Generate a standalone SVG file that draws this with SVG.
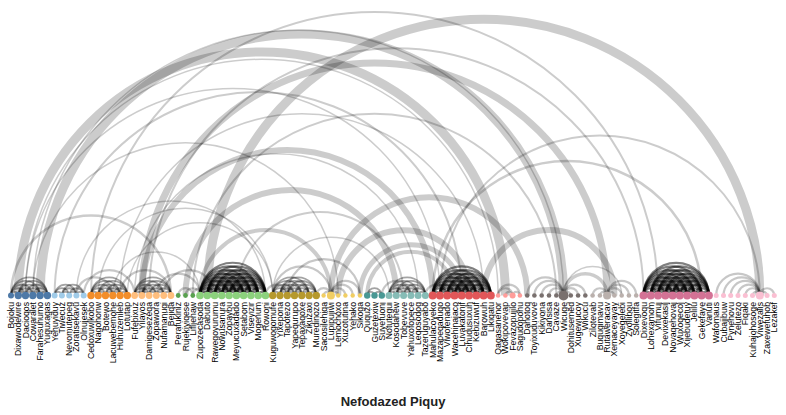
<svg xmlns="http://www.w3.org/2000/svg" width="786" height="415" viewBox="0 0 786 415">
<style>
.a path{fill:none;stroke:#000;stroke-opacity:.2}
.a .i path{stroke-width:1.8;stroke-opacity:.36}
.a .d path{stroke-width:2.2;stroke-opacity:.5}
.a .s path{stroke-width:2.2;stroke-opacity:.22}
text.lb{font-family:"Liberation Sans",Arial,sans-serif;font-size:8.7px;fill:#000}
.t{font-family:"Liberation Sans",Arial,sans-serif;font-size:13px;font-weight:bold;fill:#222}
</style>
<rect width="786" height="415" fill="#fff"/>
<g id="connectors" class="a">
<g class="i">
<path d="M11 295.5A1 1 0 0 1 18.3 295.5"/><path d="M11 295.5A1 1 0 0 1 25.5 295.5"/><path d="M11 295.5A1 1 0 0 1 32.8 295.5"/><path d="M11 295.5A1 1 0 0 1 40.1 295.5"/><path d="M11 295.5A1 1 0 0 1 47.4 295.5"/>
<path d="M18.3 295.5A1 1 0 0 1 25.5 295.5"/><path d="M18.3 295.5A1 1 0 0 1 32.8 295.5"/><path d="M18.3 295.5A1 1 0 0 1 40.1 295.5"/><path d="M18.3 295.5A1 1 0 0 1 47.4 295.5"/>
<path d="M25.5 295.5A1 1 0 0 1 32.8 295.5"/><path d="M25.5 295.5A1 1 0 0 1 40.1 295.5"/><path d="M25.5 295.5A1 1 0 0 1 47.4 295.5"/>
<path d="M32.8 295.5A1 1 0 0 1 40.1 295.5"/><path d="M32.8 295.5A1 1 0 0 1 47.4 295.5"/><path d="M40.1 295.5A1 1 0 0 1 47.4 295.5"/>
<path d="M54.6 295.5A1 1 0 0 1 61.9 295.5"/><path d="M54.6 295.5A1 1 0 0 1 69.2 295.5"/><path d="M54.6 295.5A1 1 0 0 1 76.4 295.5"/><path d="M61.9 295.5A1 1 0 0 1 69.2 295.5"/><path d="M61.9 295.5A1 1 0 0 1 76.4 295.5"/><path d="M61.9 295.5A1 1 0 0 1 83.7 295.5"/><path d="M69.2 295.5A1 1 0 0 1 76.4 295.5"/><path d="M69.2 295.5A1 1 0 0 1 83.7 295.5"/><path d="M76.4 295.5A1 1 0 0 1 83.7 295.5"/>
<path d="M91 295.5A1 1 0 0 1 98.2 295.5"/><path d="M91 295.5A1 1 0 0 1 105.5 295.5"/><path d="M91 295.5A1 1 0 0 1 112.8 295.5"/><path d="M91 295.5A1 1 0 0 1 120.1 295.5"/><path d="M91 295.5A1 1 0 0 1 127.3 295.5"/>
<path d="M98.2 295.5A1 1 0 0 1 105.5 295.5"/><path d="M98.2 295.5A1 1 0 0 1 112.8 295.5"/><path d="M98.2 295.5A1 1 0 0 1 120.1 295.5"/><path d="M98.2 295.5A1 1 0 0 1 127.3 295.5"/>
<path d="M105.5 295.5A1 1 0 0 1 112.8 295.5"/><path d="M105.5 295.5A1 1 0 0 1 120.1 295.5"/><path d="M105.5 295.5A1 1 0 0 1 127.3 295.5"/>
<path d="M112.8 295.5A1 1 0 0 1 120.1 295.5"/><path d="M112.8 295.5A1 1 0 0 1 127.3 295.5"/><path d="M120.1 295.5A1 1 0 0 1 127.3 295.5"/>
<path d="M134.6 295.5A1 1 0 0 1 141.9 295.5"/><path d="M134.6 295.5A1 1 0 0 1 149.1 295.5"/><path d="M134.6 295.5A1 1 0 0 1 156.4 295.5"/><path d="M134.6 295.5A1 1 0 0 1 163.7 295.5"/><path d="M134.6 295.5A1 1 0 0 1 170.9 295.5"/>
<path d="M141.9 295.5A1 1 0 0 1 149.1 295.5"/><path d="M141.9 295.5A1 1 0 0 1 156.4 295.5"/><path d="M141.9 295.5A1 1 0 0 1 163.7 295.5"/><path d="M141.9 295.5A1 1 0 0 1 170.9 295.5"/>
<path d="M149.1 295.5A1 1 0 0 1 156.4 295.5"/><path d="M149.1 295.5A1 1 0 0 1 163.7 295.5"/><path d="M149.1 295.5A1 1 0 0 1 170.9 295.5"/>
<path d="M156.4 295.5A1 1 0 0 1 163.7 295.5"/><path d="M156.4 295.5A1 1 0 0 1 170.9 295.5"/><path d="M163.7 295.5A1 1 0 0 1 170.9 295.5"/>
<path d="M272.7 295.5A1 1 0 0 1 280 295.5"/><path d="M272.7 295.5A1 1 0 0 1 287.3 295.5"/><path d="M272.7 295.5A1 1 0 0 1 294.5 295.5"/><path d="M272.7 295.5A1 1 0 0 1 301.8 295.5"/><path d="M272.7 295.5A1 1 0 0 1 309.1 295.5"/>
<path d="M280 295.5A1 1 0 0 1 287.3 295.5"/><path d="M280 295.5A1 1 0 0 1 294.5 295.5"/><path d="M280 295.5A1 1 0 0 1 301.8 295.5"/><path d="M280 295.5A1 1 0 0 1 309.1 295.5"/><path d="M280 295.5A1 1 0 0 1 316.3 295.5"/>
<path d="M287.3 295.5A1 1 0 0 1 294.5 295.5"/><path d="M287.3 295.5A1 1 0 0 1 301.8 295.5"/><path d="M287.3 295.5A1 1 0 0 1 309.1 295.5"/><path d="M287.3 295.5A1 1 0 0 1 316.3 295.5"/>
<path d="M294.5 295.5A1 1 0 0 1 301.8 295.5"/><path d="M294.5 295.5A1 1 0 0 1 309.1 295.5"/><path d="M294.5 295.5A1 1 0 0 1 316.3 295.5"/>
<path d="M301.8 295.5A1 1 0 0 1 309.1 295.5"/><path d="M301.8 295.5A1 1 0 0 1 316.3 295.5"/><path d="M309.1 295.5A1 1 0 0 1 316.3 295.5"/>
<path d="M367.2 295.5A1 1 0 0 1 374.5 295.5"/><path d="M374.5 295.5A1 1 0 0 1 381.8 295.5"/><path d="M367.2 295.5A1 1 0 0 1 381.8 295.5"/>
<path d="M389 295.5A1 1 0 0 1 396.3 295.5"/><path d="M389 295.5A1 1 0 0 1 403.6 295.5"/><path d="M389 295.5A1 1 0 0 1 410.9 295.5"/><path d="M389 295.5A1 1 0 0 1 418.1 295.5"/><path d="M389 295.5A1 1 0 0 1 425.4 295.5"/>
<path d="M396.3 295.5A1 1 0 0 1 403.6 295.5"/><path d="M396.3 295.5A1 1 0 0 1 410.9 295.5"/><path d="M396.3 295.5A1 1 0 0 1 418.1 295.5"/><path d="M396.3 295.5A1 1 0 0 1 425.4 295.5"/>
<path d="M403.6 295.5A1 1 0 0 1 410.9 295.5"/><path d="M403.6 295.5A1 1 0 0 1 418.1 295.5"/><path d="M403.6 295.5A1 1 0 0 1 425.4 295.5"/>
<path d="M410.9 295.5A1 1 0 0 1 418.1 295.5"/><path d="M410.9 295.5A1 1 0 0 1 425.4 295.5"/><path d="M418.1 295.5A1 1 0 0 1 425.4 295.5"/>
</g>
<g class="d">
<path d="M200 295.5A1 1 0 0 1 207.3 295.5"/><path d="M200 295.5A1 1 0 0 1 214.6 295.5"/><path d="M200 295.5A1 1 0 0 1 221.8 295.5"/><path d="M200 295.5A1 1 0 0 1 229.1 295.5"/><path d="M200 295.5A1 1 0 0 1 236.4 295.5"/><path d="M200 295.5A1 1 0 0 1 243.6 295.5"/><path d="M200 295.5A1 1 0 0 1 250.9 295.5"/><path d="M200 295.5A1 1 0 0 1 258.2 295.5"/><path d="M200 295.5A1 1 0 0 1 265.5 295.5"/>
<path d="M207.3 295.5A1 1 0 0 1 214.6 295.5"/><path d="M207.3 295.5A1 1 0 0 1 221.8 295.5"/><path d="M207.3 295.5A1 1 0 0 1 229.1 295.5"/><path d="M207.3 295.5A1 1 0 0 1 236.4 295.5"/><path d="M207.3 295.5A1 1 0 0 1 243.6 295.5"/><path d="M207.3 295.5A1 1 0 0 1 250.9 295.5"/><path d="M207.3 295.5A1 1 0 0 1 258.2 295.5"/><path d="M207.3 295.5A1 1 0 0 1 265.5 295.5"/>
<path d="M214.6 295.5A1 1 0 0 1 221.8 295.5"/><path d="M214.6 295.5A1 1 0 0 1 229.1 295.5"/><path d="M214.6 295.5A1 1 0 0 1 236.4 295.5"/><path d="M214.6 295.5A1 1 0 0 1 243.6 295.5"/><path d="M214.6 295.5A1 1 0 0 1 250.9 295.5"/><path d="M214.6 295.5A1 1 0 0 1 258.2 295.5"/><path d="M214.6 295.5A1 1 0 0 1 265.5 295.5"/>
<path d="M221.8 295.5A1 1 0 0 1 229.1 295.5"/><path d="M221.8 295.5A1 1 0 0 1 236.4 295.5"/><path d="M221.8 295.5A1 1 0 0 1 243.6 295.5"/><path d="M221.8 295.5A1 1 0 0 1 250.9 295.5"/><path d="M221.8 295.5A1 1 0 0 1 258.2 295.5"/><path d="M221.8 295.5A1 1 0 0 1 265.5 295.5"/>
<path d="M229.1 295.5A1 1 0 0 1 236.4 295.5"/><path d="M229.1 295.5A1 1 0 0 1 243.6 295.5"/><path d="M229.1 295.5A1 1 0 0 1 250.9 295.5"/><path d="M229.1 295.5A1 1 0 0 1 258.2 295.5"/><path d="M229.1 295.5A1 1 0 0 1 265.5 295.5"/>
<path d="M236.4 295.5A1 1 0 0 1 243.6 295.5"/><path d="M236.4 295.5A1 1 0 0 1 250.9 295.5"/><path d="M236.4 295.5A1 1 0 0 1 258.2 295.5"/><path d="M236.4 295.5A1 1 0 0 1 265.5 295.5"/>
<path d="M243.6 295.5A1 1 0 0 1 250.9 295.5"/><path d="M243.6 295.5A1 1 0 0 1 258.2 295.5"/><path d="M243.6 295.5A1 1 0 0 1 265.5 295.5"/>
<path d="M250.9 295.5A1 1 0 0 1 258.2 295.5"/><path d="M250.9 295.5A1 1 0 0 1 265.5 295.5"/><path d="M258.2 295.5A1 1 0 0 1 265.5 295.5"/>
<path d="M432.7 295.5A1 1 0 0 1 439.9 295.5"/><path d="M432.7 295.5A1 1 0 0 1 447.2 295.5"/><path d="M432.7 295.5A1 1 0 0 1 454.5 295.5"/><path d="M432.7 295.5A1 1 0 0 1 461.7 295.5"/><path d="M432.7 295.5A1 1 0 0 1 469 295.5"/><path d="M432.7 295.5A1 1 0 0 1 476.3 295.5"/><path d="M432.7 295.5A1 1 0 0 1 483.6 295.5"/><path d="M432.7 295.5A1 1 0 0 1 490.8 295.5"/>
<path d="M439.9 295.5A1 1 0 0 1 447.2 295.5"/><path d="M439.9 295.5A1 1 0 0 1 454.5 295.5"/><path d="M439.9 295.5A1 1 0 0 1 461.7 295.5"/><path d="M439.9 295.5A1 1 0 0 1 469 295.5"/><path d="M439.9 295.5A1 1 0 0 1 476.3 295.5"/><path d="M439.9 295.5A1 1 0 0 1 483.6 295.5"/><path d="M439.9 295.5A1 1 0 0 1 490.8 295.5"/>
<path d="M447.2 295.5A1 1 0 0 1 454.5 295.5"/><path d="M447.2 295.5A1 1 0 0 1 461.7 295.5"/><path d="M447.2 295.5A1 1 0 0 1 469 295.5"/><path d="M447.2 295.5A1 1 0 0 1 476.3 295.5"/><path d="M447.2 295.5A1 1 0 0 1 483.6 295.5"/><path d="M447.2 295.5A1 1 0 0 1 490.8 295.5"/>
<path d="M454.5 295.5A1 1 0 0 1 461.7 295.5"/><path d="M454.5 295.5A1 1 0 0 1 469 295.5"/><path d="M454.5 295.5A1 1 0 0 1 476.3 295.5"/><path d="M454.5 295.5A1 1 0 0 1 483.6 295.5"/><path d="M454.5 295.5A1 1 0 0 1 490.8 295.5"/>
<path d="M461.7 295.5A1 1 0 0 1 469 295.5"/><path d="M461.7 295.5A1 1 0 0 1 476.3 295.5"/><path d="M461.7 295.5A1 1 0 0 1 483.6 295.5"/><path d="M461.7 295.5A1 1 0 0 1 490.8 295.5"/>
<path d="M469 295.5A1 1 0 0 1 476.3 295.5"/><path d="M469 295.5A1 1 0 0 1 483.6 295.5"/><path d="M469 295.5A1 1 0 0 1 490.8 295.5"/>
<path d="M476.3 295.5A1 1 0 0 1 483.6 295.5"/><path d="M476.3 295.5A1 1 0 0 1 490.8 295.5"/><path d="M483.6 295.5A1 1 0 0 1 490.8 295.5"/>
<path d="M643.5 295.5A1 1 0 0 1 650.8 295.5"/><path d="M643.5 295.5A1 1 0 0 1 658 295.5"/><path d="M643.5 295.5A1 1 0 0 1 665.3 295.5"/><path d="M643.5 295.5A1 1 0 0 1 672.6 295.5"/><path d="M643.5 295.5A1 1 0 0 1 679.8 295.5"/><path d="M643.5 295.5A1 1 0 0 1 687.1 295.5"/><path d="M643.5 295.5A1 1 0 0 1 694.4 295.5"/><path d="M643.5 295.5A1 1 0 0 1 701.6 295.5"/><path d="M643.5 295.5A1 1 0 0 1 708.9 295.5"/>
<path d="M650.8 295.5A1 1 0 0 1 658 295.5"/><path d="M650.8 295.5A1 1 0 0 1 665.3 295.5"/><path d="M650.8 295.5A1 1 0 0 1 672.6 295.5"/><path d="M650.8 295.5A1 1 0 0 1 679.8 295.5"/><path d="M650.8 295.5A1 1 0 0 1 687.1 295.5"/><path d="M650.8 295.5A1 1 0 0 1 694.4 295.5"/><path d="M650.8 295.5A1 1 0 0 1 701.6 295.5"/><path d="M650.8 295.5A1 1 0 0 1 708.9 295.5"/>
<path d="M658 295.5A1 1 0 0 1 665.3 295.5"/><path d="M658 295.5A1 1 0 0 1 672.6 295.5"/><path d="M658 295.5A1 1 0 0 1 679.8 295.5"/><path d="M658 295.5A1 1 0 0 1 687.1 295.5"/><path d="M658 295.5A1 1 0 0 1 694.4 295.5"/><path d="M658 295.5A1 1 0 0 1 701.6 295.5"/><path d="M658 295.5A1 1 0 0 1 708.9 295.5"/>
<path d="M665.3 295.5A1 1 0 0 1 672.6 295.5"/><path d="M665.3 295.5A1 1 0 0 1 679.8 295.5"/><path d="M665.3 295.5A1 1 0 0 1 687.1 295.5"/><path d="M665.3 295.5A1 1 0 0 1 694.4 295.5"/><path d="M665.3 295.5A1 1 0 0 1 701.6 295.5"/><path d="M665.3 295.5A1 1 0 0 1 708.9 295.5"/>
<path d="M672.6 295.5A1 1 0 0 1 679.8 295.5"/><path d="M672.6 295.5A1 1 0 0 1 687.1 295.5"/><path d="M672.6 295.5A1 1 0 0 1 694.4 295.5"/><path d="M672.6 295.5A1 1 0 0 1 701.6 295.5"/><path d="M672.6 295.5A1 1 0 0 1 708.9 295.5"/>
<path d="M679.8 295.5A1 1 0 0 1 687.1 295.5"/><path d="M679.8 295.5A1 1 0 0 1 694.4 295.5"/><path d="M679.8 295.5A1 1 0 0 1 701.6 295.5"/><path d="M679.8 295.5A1 1 0 0 1 708.9 295.5"/>
<path d="M687.1 295.5A1 1 0 0 1 694.4 295.5"/><path d="M687.1 295.5A1 1 0 0 1 701.6 295.5"/><path d="M687.1 295.5A1 1 0 0 1 708.9 295.5"/>
<path d="M694.4 295.5A1 1 0 0 1 701.6 295.5"/><path d="M694.4 295.5A1 1 0 0 1 708.9 295.5"/><path d="M701.6 295.5A1 1 0 0 1 708.9 295.5"/>
</g>
<g class="s">
<path d="M178.2 295.5A1 1 0 0 1 192.8 295.5"/><path d="M185.5 295.5A1 1 0 0 1 200 295.5"/><path d="M192.8 295.5A1 1 0 0 1 207.3 295.5"/>
<path d="M323.6 295.5A1 1 0 0 1 330.9 295.5"/><path d="M330.9 295.5A1 1 0 0 1 338.2 295.5"/><path d="M330.9 295.5A1 1 0 0 1 345.4 295.5"/><path d="M330.9 295.5A1 1 0 0 1 352.7 295.5"/><path d="M330.9 295.5A1 1 0 0 1 360 295.5"/><path d="M272.7 295.5A1 1 0 0 1 330.9 295.5"/><path d="M287.3 295.5A1 1 0 0 1 360 295.5"/>
<path d="M498.1 295.5A1 1 0 0 1 512.6 295.5"/><path d="M505.4 295.5A1 1 0 0 1 512.6 295.5"/><path d="M512.6 295.5A1 1 0 0 1 519.9 295.5"/><path d="M498.1 295.5A1 1 0 0 1 519.9 295.5"/>
<path d="M527.2 295.5A1 1 0 0 1 563.5 295.5"/><path d="M534.4 295.5A1 1 0 0 1 563.5 295.5"/><path d="M541.7 295.5A1 1 0 0 1 563.5 295.5"/><path d="M549 295.5A1 1 0 0 1 563.5 295.5"/><path d="M556.3 295.5A1 1 0 0 1 563.5 295.5"/><path d="M563.5 295.5A1 1 0 0 1 570.8 295.5"/><path d="M563.5 295.5A1 1 0 0 1 578.1 295.5"/><path d="M563.5 295.5A1 1 0 0 1 585.3 295.5"/>
<path d="M592.6 295.5A1 1 0 0 1 607.1 295.5"/><path d="M599.9 295.5A1 1 0 0 1 607.1 295.5"/><path d="M607.1 295.5A1 1 0 0 1 614.4 295.5"/><path d="M607.1 295.5A1 1 0 0 1 621.7 295.5"/><path d="M607.1 295.5A1 1 0 0 1 628.9 295.5"/><path d="M607.1 295.5A1 1 0 0 1 636.2 295.5"/>
<path d="M716.2 295.5A1 1 0 0 1 759.8 295.5"/><path d="M723.5 295.5A1 1 0 0 1 759.8 295.5"/><path d="M730.7 295.5A1 1 0 0 1 759.8 295.5"/><path d="M738 295.5A1 1 0 0 1 759.8 295.5"/><path d="M745.3 295.5A1 1 0 0 1 759.8 295.5"/><path d="M752.5 295.5A1 1 0 0 1 759.8 295.5"/><path d="M759.8 295.5A1 1 0 0 1 767.1 295.5"/><path d="M759.8 295.5A1 1 0 0 1 774.3 295.5"/>
<path d="M76.4 295.5A1 1 0 0 1 112.8 295.5"/><path d="M83.7 295.5A1 1 0 0 1 134.6 295.5"/><path d="M120.1 295.5A1 1 0 0 1 170.9 295.5"/><path d="M156.4 295.5A1 1 0 0 1 200 295.5"/><path d="M163.7 295.5A1 1 0 0 1 214.6 295.5"/><path d="M265.5 295.5A1 1 0 0 1 287.3 295.5"/><path d="M316.3 295.5A1 1 0 0 1 330.9 295.5"/><path d="M425.4 295.5A1 1 0 0 1 447.2 295.5"/><path d="M381.8 295.5A1 1 0 0 1 410.9 295.5"/>
</g>
<path stroke-width="9" d="M207.3 295.5A1 1 0 0 1 759.8 295.5"/>
<path stroke-width="9" d="M40.1 295.5A1 1 0 0 1 563.5 295.5"/>
<path stroke-width="1.5" d="M32.8 295.5A1 1 0 0 1 563.5 295.5"/>
<path stroke-width="9" d="M18.3 295.5A1 1 0 0 1 505.4 295.5"/>
<path stroke-width="1.5" d="M25.5 295.5A1 1 0 0 1 498.1 295.5"/>
<path stroke-width="2" d="M91 295.5A1 1 0 0 1 658 295.5"/>
<path stroke-width="7" d="M141.9 295.5A1 1 0 0 1 607.1 295.5"/>
<path stroke-width="6" d="M141.9 295.5A1 1 0 0 1 432.7 295.5"/>
<path stroke-width="6" d="M185.5 295.5A1 1 0 0 1 396.3 295.5"/>
<path stroke-width="2.5" d="M11 295.5A1 1 0 0 1 170.9 295.5"/>
<path stroke-width="2" d="M54.6 295.5A1 1 0 0 1 461.7 295.5"/>
<path stroke-width="2" d="M439.9 295.5A1 1 0 0 1 759.8 295.5"/>
<path stroke-width="2.5" d="M432.7 295.5A1 1 0 0 1 701.6 295.5"/>
<path stroke-width="6" d="M483.6 295.5A1 1 0 0 1 614.4 295.5"/>
<path stroke-width="6" d="M330.9 295.5A1 1 0 0 1 527.2 295.5"/>
<path stroke-width="6" d="M338.2 295.5A1 1 0 0 1 469 295.5"/>
<path stroke-width="5" d="M360 295.5A1 1 0 0 1 461.7 295.5"/>
<path stroke-width="4" d="M367.2 295.5A1 1 0 0 1 454.5 295.5"/>
<path stroke-width="4" d="M200 295.5A1 1 0 0 1 330.9 295.5"/>
<path stroke-width="2" d="M149.1 295.5A1 1 0 0 1 643.5 295.5"/>
<path stroke-width="2" d="M192.8 295.5A1 1 0 0 1 556.3 295.5"/>
<path stroke-width="1.5" d="M25.5 295.5A1 1 0 0 1 439.9 295.5"/>
<path stroke-width="1.5" d="M120.1 295.5A1 1 0 0 1 483.6 295.5"/>
<path stroke-width="1.5" d="M134.6 295.5A1 1 0 0 1 418.1 295.5"/>
<path stroke-width="1.5" d="M32.8 295.5A1 1 0 0 1 338.2 295.5"/>
<path stroke-width="1.5" d="M98.2 295.5A1 1 0 0 1 272.7 295.5"/>
<path stroke-width="1.5" d="M76.4 295.5A1 1 0 0 1 265.5 295.5"/>
<path stroke-width="1.5" d="M127.3 295.5A1 1 0 0 1 272.7 295.5"/>
<path stroke-width="1.5" d="M112.8 295.5A1 1 0 0 1 200 295.5"/>
<path stroke-width="2" d="M236.4 295.5A1 1 0 0 1 403.6 295.5"/>
<path stroke-width="1.5" d="M272.7 295.5A1 1 0 0 1 389 295.5"/>
<path stroke-width="3.5" d="M563.5 295.5A1 1 0 0 1 607.1 295.5"/>
<path stroke-width="1.5" d="M563.5 295.5A1 1 0 0 1 621.7 295.5"/>
</g>
<g id="nodes">
<g id="n0"><circle cx="11" cy="295.5" r="3" fill="#4e79a7"/><text class="lb" transform="translate(11,302) rotate(-90)" text-anchor="end" dy="0.35em">Bojoku</text></g>
<g id="n1"><circle cx="18.3" cy="295.5" r="3.7" fill="#4e79a7"/><text class="lb" transform="translate(18.3,302) rotate(-90)" text-anchor="end" dy="0.35em">Dixawodewire</text></g>
<g id="n2"><circle cx="25.5" cy="295.5" r="3.7" fill="#4e79a7"/><text class="lb" transform="translate(25.5,302) rotate(-90)" text-anchor="end" dy="0.35em">Dacioqos</text></g>
<g id="n3"><circle cx="32.8" cy="295.5" r="3.7" fill="#4e79a7"/><text class="lb" transform="translate(32.8,302) rotate(-90)" text-anchor="end" dy="0.35em">Cowaralet</text></g>
<g id="n4"><circle cx="40.1" cy="295.5" r="3.7" fill="#4e79a7"/><text class="lb" transform="translate(40.1,302) rotate(-90)" text-anchor="end" dy="0.35em">Farahesuhumo</text></g>
<g id="n5"><circle cx="47.4" cy="295.5" r="3.7" fill="#4e79a7"/><text class="lb" transform="translate(47.4,302) rotate(-90)" text-anchor="end" dy="0.35em">Yuguxagas</text></g>
<g id="n6"><circle cx="54.6" cy="295.5" r="3" fill="#a0cbe8"/><text class="lb" transform="translate(54.6,302) rotate(-90)" text-anchor="end" dy="0.35em">Yehuyiduy</text></g>
<g id="n7"><circle cx="61.9" cy="295.5" r="3" fill="#a0cbe8"/><text class="lb" transform="translate(61.9,302) rotate(-90)" text-anchor="end" dy="0.35em">Tiwecuz</text></g>
<g id="n8"><circle cx="69.2" cy="295.5" r="3" fill="#a0cbe8"/><text class="lb" transform="translate(69.2,302) rotate(-90)" text-anchor="end" dy="0.35em">Nevomutepeg</text></g>
<g id="n9"><circle cx="76.4" cy="295.5" r="3" fill="#a0cbe8"/><text class="lb" transform="translate(76.4,302) rotate(-90)" text-anchor="end" dy="0.35em">Zoratisekavu</text></g>
<g id="n10"><circle cx="83.7" cy="295.5" r="3" fill="#a0cbe8"/><text class="lb" transform="translate(83.7,302) rotate(-90)" text-anchor="end" dy="0.35em">Olnujesek</text></g>
<g id="n11"><circle cx="91" cy="295.5" r="3.7" fill="#f28e2b"/><text class="lb" transform="translate(91,302) rotate(-90)" text-anchor="end" dy="0.35em">Cedoxuwikobo</text></g>
<g id="n12"><circle cx="98.2" cy="295.5" r="3.7" fill="#f28e2b"/><text class="lb" transform="translate(98.2,302) rotate(-90)" text-anchor="end" dy="0.35em">Nagohonw</text></g>
<g id="n13"><circle cx="105.5" cy="295.5" r="3.7" fill="#f28e2b"/><text class="lb" transform="translate(105.5,302) rotate(-90)" text-anchor="end" dy="0.35em">Botewo</text></g>
<g id="n14"><circle cx="112.8" cy="295.5" r="3.7" fill="#f28e2b"/><text class="lb" transform="translate(112.8,302) rotate(-90)" text-anchor="end" dy="0.35em">Lacuwebemohe</text></g>
<g id="n15"><circle cx="120.1" cy="295.5" r="3.7" fill="#f28e2b"/><text class="lb" transform="translate(120.1,302) rotate(-90)" text-anchor="end" dy="0.35em">Huhuzenileb</text></g>
<g id="n16"><circle cx="127.3" cy="295.5" r="3.7" fill="#f28e2b"/><text class="lb" transform="translate(127.3,302) rotate(-90)" text-anchor="end" dy="0.35em">Lotutap</text></g>
<g id="n17"><circle cx="134.6" cy="295.5" r="3.4" fill="#ffbe7d"/><text class="lb" transform="translate(134.6,302) rotate(-90)" text-anchor="end" dy="0.35em">Fufebixuz</text></g>
<g id="n18"><circle cx="141.9" cy="295.5" r="3.4" fill="#ffbe7d"/><text class="lb" transform="translate(141.9,302) rotate(-90)" text-anchor="end" dy="0.35em">Yilayos</text></g>
<g id="n19"><circle cx="149.1" cy="295.5" r="3.4" fill="#ffbe7d"/><text class="lb" transform="translate(149.1,302) rotate(-90)" text-anchor="end" dy="0.35em">Damigesezeqa</text></g>
<g id="n20"><circle cx="156.4" cy="295.5" r="3.4" fill="#ffbe7d"/><text class="lb" transform="translate(156.4,302) rotate(-90)" text-anchor="end" dy="0.35em">Zopawora</text></g>
<g id="n21"><circle cx="163.7" cy="295.5" r="3.4" fill="#ffbe7d"/><text class="lb" transform="translate(163.7,302) rotate(-90)" text-anchor="end" dy="0.35em">Nufamanugi</text></g>
<g id="n22"><circle cx="170.9" cy="295.5" r="3.4" fill="#ffbe7d"/><text class="lb" transform="translate(170.9,302) rotate(-90)" text-anchor="end" dy="0.35em">Bejiqa</text></g>
<g id="n23"><circle cx="178.2" cy="295.5" r="2.4" fill="#59a14f"/><text class="lb" transform="translate(178.2,302) rotate(-90)" text-anchor="end" dy="0.35em">Perafukiniz</text></g>
<g id="n24"><circle cx="185.5" cy="295.5" r="2.4" fill="#59a14f"/><text class="lb" transform="translate(185.5,302) rotate(-90)" text-anchor="end" dy="0.35em">Rujekiyiqese</text></g>
<g id="n25"><circle cx="192.8" cy="295.5" r="2.4" fill="#59a14f"/><text class="lb" transform="translate(192.8,302) rotate(-90)" text-anchor="end" dy="0.35em">Lifijenaw</text></g>
<g id="n26"><circle cx="200" cy="295.5" r="3.8" fill="#8cd17d"/><text class="lb" transform="translate(200,302) rotate(-90)" text-anchor="end" dy="0.35em">Zupozecasoda</text></g>
<g id="n27"><circle cx="207.3" cy="295.5" r="3.8" fill="#8cd17d"/><text class="lb" transform="translate(207.3,302) rotate(-90)" text-anchor="end" dy="0.35em">Dabuto</text></g>
<g id="n28"><circle cx="214.6" cy="295.5" r="3.8" fill="#8cd17d"/><text class="lb" transform="translate(214.6,302) rotate(-90)" text-anchor="end" dy="0.35em">Rawegoyurumu</text></g>
<g id="n29"><circle cx="221.8" cy="295.5" r="3.8" fill="#8cd17d"/><text class="lb" transform="translate(221.8,302) rotate(-90)" text-anchor="end" dy="0.35em">Nowusanura</text></g>
<g id="n30"><circle cx="229.1" cy="295.5" r="3.8" fill="#8cd17d"/><text class="lb" transform="translate(229.1,302) rotate(-90)" text-anchor="end" dy="0.35em">Zopaybu</text></g>
<g id="n31"><circle cx="236.4" cy="295.5" r="3.8" fill="#8cd17d"/><text class="lb" transform="translate(236.4,302) rotate(-90)" text-anchor="end" dy="0.35em">Meyucuxadado</text></g>
<g id="n32"><circle cx="243.6" cy="295.5" r="3.8" fill="#8cd17d"/><text class="lb" transform="translate(243.6,302) rotate(-90)" text-anchor="end" dy="0.35em">Setabom</text></g>
<g id="n33"><circle cx="250.9" cy="295.5" r="3.8" fill="#8cd17d"/><text class="lb" transform="translate(250.9,302) rotate(-90)" text-anchor="end" dy="0.35em">Viseyizir</text></g>
<g id="n34"><circle cx="258.2" cy="295.5" r="3.8" fill="#8cd17d"/><text class="lb" transform="translate(258.2,302) rotate(-90)" text-anchor="end" dy="0.35em">Mogenum</text></g>
<g id="n35"><circle cx="265.5" cy="295.5" r="3.8" fill="#8cd17d"/><text class="lb" transform="translate(265.5,302) rotate(-90)" text-anchor="end" dy="0.35em">Rowoni</text></g>
<g id="n36"><circle cx="272.7" cy="295.5" r="3.7" fill="#b6992d"/><text class="lb" transform="translate(272.7,302) rotate(-90)" text-anchor="end" dy="0.35em">Kuguwogomufe</text></g>
<g id="n37"><circle cx="280" cy="295.5" r="3.7" fill="#b6992d"/><text class="lb" transform="translate(280,302) rotate(-90)" text-anchor="end" dy="0.35em">Yixepona</text></g>
<g id="n38"><circle cx="287.3" cy="295.5" r="3.7" fill="#b6992d"/><text class="lb" transform="translate(287.3,302) rotate(-90)" text-anchor="end" dy="0.35em">Tapotezo</text></g>
<g id="n39"><circle cx="294.5" cy="295.5" r="3.7" fill="#b6992d"/><text class="lb" transform="translate(294.5,302) rotate(-90)" text-anchor="end" dy="0.35em">Yapequrupo</text></g>
<g id="n40"><circle cx="301.8" cy="295.5" r="3.7" fill="#b6992d"/><text class="lb" transform="translate(301.8,302) rotate(-90)" text-anchor="end" dy="0.35em">Tepaxaqoxe</text></g>
<g id="n41"><circle cx="309.1" cy="295.5" r="3.7" fill="#b6992d"/><text class="lb" transform="translate(309.1,302) rotate(-90)" text-anchor="end" dy="0.35em">Zikuzaxi</text></g>
<g id="n42"><circle cx="316.3" cy="295.5" r="3.7" fill="#b6992d"/><text class="lb" transform="translate(316.3,302) rotate(-90)" text-anchor="end" dy="0.35em">Muredinozo</text></g>
<g id="n43"><circle cx="323.6" cy="295.5" r="2.2" fill="#f1ce63"/><text class="lb" transform="translate(323.6,302) rotate(-90)" text-anchor="end" dy="0.35em">Sacosilehiqa</text></g>
<g id="n44"><circle cx="330.9" cy="295.5" r="4" fill="#f1ce63"/><text class="lb" transform="translate(330.9,302) rotate(-90)" text-anchor="end" dy="0.35em">Lupipujiwi</text></g>
<g id="n45"><circle cx="338.2" cy="295.5" r="2.2" fill="#f1ce63"/><text class="lb" transform="translate(338.2,302) rotate(-90)" text-anchor="end" dy="0.35em">Lemochoxo</text></g>
<g id="n46"><circle cx="345.4" cy="295.5" r="2.2" fill="#f1ce63"/><text class="lb" transform="translate(345.4,302) rotate(-90)" text-anchor="end" dy="0.35em">Xuzotutina</text></g>
<g id="n47"><circle cx="352.7" cy="295.5" r="2.2" fill="#f1ce63"/><text class="lb" transform="translate(352.7,302) rotate(-90)" text-anchor="end" dy="0.35em">Yehako</text></g>
<g id="n48"><circle cx="360" cy="295.5" r="2.2" fill="#f1ce63"/><text class="lb" transform="translate(360,302) rotate(-90)" text-anchor="end" dy="0.35em">Sikoga</text></g>
<g id="n49"><circle cx="367.2" cy="295.5" r="3.2" fill="#499894"/><text class="lb" transform="translate(367.2,302) rotate(-90)" text-anchor="end" dy="0.35em">Ququzo</text></g>
<g id="n50"><circle cx="374.5" cy="295.5" r="3.2" fill="#499894"/><text class="lb" transform="translate(374.5,302) rotate(-90)" text-anchor="end" dy="0.35em">Guzetexiw</text></g>
<g id="n51"><circle cx="381.8" cy="295.5" r="3.2" fill="#499894"/><text class="lb" transform="translate(381.8,302) rotate(-90)" text-anchor="end" dy="0.35em">Suyefuoni</text></g>
<g id="n52"><circle cx="389" cy="295.5" r="3.5" fill="#86bcb6"/><text class="lb" transform="translate(389,302) rotate(-90)" text-anchor="end" dy="0.35em">Notutegui</text></g>
<g id="n53"><circle cx="396.3" cy="295.5" r="3.5" fill="#86bcb6"/><text class="lb" transform="translate(396.3,302) rotate(-90)" text-anchor="end" dy="0.35em">Kosodahew</text></g>
<g id="n54"><circle cx="403.6" cy="295.5" r="3.5" fill="#86bcb6"/><text class="lb" transform="translate(403.6,302) rotate(-90)" text-anchor="end" dy="0.35em">Tobevuve</text></g>
<g id="n55"><circle cx="410.9" cy="295.5" r="3.5" fill="#86bcb6"/><text class="lb" transform="translate(410.9,302) rotate(-90)" text-anchor="end" dy="0.35em">Yahuxofopece</text></g>
<g id="n56"><circle cx="418.1" cy="295.5" r="3.5" fill="#86bcb6"/><text class="lb" transform="translate(418.1,302) rotate(-90)" text-anchor="end" dy="0.35em">Leqosodog</text></g>
<g id="n57"><circle cx="425.4" cy="295.5" r="3.5" fill="#86bcb6"/><text class="lb" transform="translate(425.4,302) rotate(-90)" text-anchor="end" dy="0.35em">Tazeruguyabo</text></g>
<g id="n58"><circle cx="432.7" cy="295.5" r="4" fill="#e15759"/><text class="lb" transform="translate(432.7,302) rotate(-90)" text-anchor="end" dy="0.35em">Mahulacoyeko</text></g>
<g id="n59"><circle cx="439.9" cy="295.5" r="4" fill="#e15759"/><text class="lb" transform="translate(439.9,302) rotate(-90)" text-anchor="end" dy="0.35em">Mazapeqaduqo</text></g>
<g id="n60"><circle cx="447.2" cy="295.5" r="4" fill="#e15759"/><text class="lb" transform="translate(447.2,302) rotate(-90)" text-anchor="end" dy="0.35em">Viwofenado</text></g>
<g id="n61"><circle cx="454.5" cy="295.5" r="4" fill="#e15759"/><text class="lb" transform="translate(454.5,302) rotate(-90)" text-anchor="end" dy="0.35em">Wacehinajaco</text></g>
<g id="n62"><circle cx="461.7" cy="295.5" r="4" fill="#e15759"/><text class="lb" transform="translate(461.7,302) rotate(-90)" text-anchor="end" dy="0.35em">Luvakatonif</text></g>
<g id="n63"><circle cx="469" cy="295.5" r="4" fill="#e15759"/><text class="lb" transform="translate(469,302) rotate(-90)" text-anchor="end" dy="0.35em">Cihudusuxuh</text></g>
<g id="n64"><circle cx="476.3" cy="295.5" r="4" fill="#e15759"/><text class="lb" transform="translate(476.3,302) rotate(-90)" text-anchor="end" dy="0.35em">Kebizuwuf</text></g>
<g id="n65"><circle cx="483.6" cy="295.5" r="4" fill="#e15759"/><text class="lb" transform="translate(483.6,302) rotate(-90)" text-anchor="end" dy="0.35em">Barowuh</text></g>
<g id="n66"><circle cx="490.8" cy="295.5" r="4" fill="#e15759"/><text class="lb" transform="translate(490.8,302) rotate(-90)" text-anchor="end" dy="0.35em">Likiqatu</text></g>
<g id="n67"><circle cx="498.1" cy="295.5" r="2.3" fill="#ff9d9a"/><text class="lb" transform="translate(498.1,302) rotate(-90)" text-anchor="end" dy="0.35em">Qagasanenor</text></g>
<g id="n68"><circle cx="505.4" cy="295.5" r="2.3" fill="#ff9d9a"/><text class="lb" transform="translate(505.4,302) rotate(-90)" text-anchor="end" dy="0.35em">Wokipovevap</text></g>
<g id="n69"><circle cx="512.6" cy="295.5" r="3" fill="#ff9d9a"/><text class="lb" transform="translate(512.6,302) rotate(-90)" text-anchor="end" dy="0.35em">Fevazopujilo</text></g>
<g id="n70"><circle cx="519.9" cy="295.5" r="2.3" fill="#ff9d9a"/><text class="lb" transform="translate(519.9,302) rotate(-90)" text-anchor="end" dy="0.35em">Sagudopohu</text></g>
<g id="n71"><circle cx="527.2" cy="295.5" r="2.3" fill="#79706e"/><text class="lb" transform="translate(527.2,302) rotate(-90)" text-anchor="end" dy="0.35em">Dahotoq</text></g>
<g id="n72"><circle cx="534.4" cy="295.5" r="2.3" fill="#79706e"/><text class="lb" transform="translate(534.4,302) rotate(-90)" text-anchor="end" dy="0.35em">Toyixuduvove</text></g>
<g id="n73"><circle cx="541.7" cy="295.5" r="2.3" fill="#79706e"/><text class="lb" transform="translate(541.7,302) rotate(-90)" text-anchor="end" dy="0.35em">Kikiyona</text></g>
<g id="n74"><circle cx="549" cy="295.5" r="2.3" fill="#79706e"/><text class="lb" transform="translate(549,302) rotate(-90)" text-anchor="end" dy="0.35em">Darisisa</text></g>
<g id="n75"><circle cx="556.3" cy="295.5" r="2.3" fill="#79706e"/><text class="lb" transform="translate(556.3,302) rotate(-90)" text-anchor="end" dy="0.35em">Cavaze</text></g>
<g id="n76"><circle cx="563.5" cy="295.5" r="5" fill="#79706e"/><text class="lb" transform="translate(563.5,302) rotate(-90)" text-anchor="end" dy="0.35em">Wicuge</text></g>
<g id="n77"><circle cx="570.8" cy="295.5" r="2.3" fill="#79706e"/><text class="lb" transform="translate(570.8,302) rotate(-90)" text-anchor="end" dy="0.35em">Dohitusemed</text></g>
<g id="n78"><circle cx="578.1" cy="295.5" r="2.3" fill="#79706e"/><text class="lb" transform="translate(578.1,302) rotate(-90)" text-anchor="end" dy="0.35em">Xugewucoy</text></g>
<g id="n79"><circle cx="585.3" cy="295.5" r="2.3" fill="#79706e"/><text class="lb" transform="translate(585.3,302) rotate(-90)" text-anchor="end" dy="0.35em">Wikucu</text></g>
<g id="n80"><circle cx="592.6" cy="295.5" r="2.3" fill="#bab0ac"/><text class="lb" transform="translate(592.6,302) rotate(-90)" text-anchor="end" dy="0.35em">Zilotevab</text></g>
<g id="n81"><circle cx="599.9" cy="295.5" r="2.3" fill="#bab0ac"/><text class="lb" transform="translate(599.9,302) rotate(-90)" text-anchor="end" dy="0.35em">Buqugimavu</text></g>
<g id="n82"><circle cx="607.1" cy="295.5" r="4" fill="#bab0ac"/><text class="lb" transform="translate(607.1,302) rotate(-90)" text-anchor="end" dy="0.35em">Rutaweracav</text></g>
<g id="n83"><circle cx="614.4" cy="295.5" r="2.3" fill="#bab0ac"/><text class="lb" transform="translate(614.4,302) rotate(-90)" text-anchor="end" dy="0.35em">Xemaceyayay</text></g>
<g id="n84"><circle cx="621.7" cy="295.5" r="2.3" fill="#bab0ac"/><text class="lb" transform="translate(621.7,302) rotate(-90)" text-anchor="end" dy="0.35em">Xoyegelebi</text></g>
<g id="n85"><circle cx="628.9" cy="295.5" r="2.3" fill="#bab0ac"/><text class="lb" transform="translate(628.9,302) rotate(-90)" text-anchor="end" dy="0.35em">Zyollibou</text></g>
<g id="n86"><circle cx="636.2" cy="295.5" r="2.3" fill="#bab0ac"/><text class="lb" transform="translate(636.2,302) rotate(-90)" text-anchor="end" dy="0.35em">Solegitfa</text></g>
<g id="n87"><circle cx="643.5" cy="295.5" r="4" fill="#d37295"/><text class="lb" transform="translate(643.5,302) rotate(-90)" text-anchor="end" dy="0.35em">Dixevoqu</text></g>
<g id="n88"><circle cx="650.8" cy="295.5" r="4" fill="#d37295"/><text class="lb" transform="translate(650.8,302) rotate(-90)" text-anchor="end" dy="0.35em">Lohexamom</text></g>
<g id="n89"><circle cx="658" cy="295.5" r="4" fill="#d37295"/><text class="lb" transform="translate(658,302) rotate(-90)" text-anchor="end" dy="0.35em">Vifumuj</text></g>
<g id="n90"><circle cx="665.3" cy="295.5" r="4" fill="#d37295"/><text class="lb" transform="translate(665.3,302) rotate(-90)" text-anchor="end" dy="0.35em">Devixekasij</text></g>
<g id="n91"><circle cx="672.6" cy="295.5" r="4" fill="#d37295"/><text class="lb" transform="translate(672.6,302) rotate(-90)" text-anchor="end" dy="0.35em">Novaqehovaj</text></g>
<g id="n92"><circle cx="679.8" cy="295.5" r="4" fill="#d37295"/><text class="lb" transform="translate(679.8,302) rotate(-90)" text-anchor="end" dy="0.35em">Wuxoqecoj</text></g>
<g id="n93"><circle cx="687.1" cy="295.5" r="4" fill="#d37295"/><text class="lb" transform="translate(687.1,302) rotate(-90)" text-anchor="end" dy="0.35em">Xijebudetuy</text></g>
<g id="n94"><circle cx="694.4" cy="295.5" r="4" fill="#d37295"/><text class="lb" transform="translate(694.4,302) rotate(-90)" text-anchor="end" dy="0.35em">Jelilu</text></g>
<g id="n95"><circle cx="701.6" cy="295.5" r="4" fill="#d37295"/><text class="lb" transform="translate(701.6,302) rotate(-90)" text-anchor="end" dy="0.35em">Gekefaye</text></g>
<g id="n96"><circle cx="708.9" cy="295.5" r="4" fill="#d37295"/><text class="lb" transform="translate(708.9,302) rotate(-90)" text-anchor="end" dy="0.35em">Vanuti</text></g>
<g id="n97"><circle cx="716.2" cy="295.5" r="2.5" fill="#fabfd2"/><text class="lb" transform="translate(716.2,302) rotate(-90)" text-anchor="end" dy="0.35em">Wafomaus</text></g>
<g id="n98"><circle cx="723.5" cy="295.5" r="2.5" fill="#fabfd2"/><text class="lb" transform="translate(723.5,302) rotate(-90)" text-anchor="end" dy="0.35em">Cubajibuw</text></g>
<g id="n99"><circle cx="730.7" cy="295.5" r="2.5" fill="#fabfd2"/><text class="lb" transform="translate(730.7,302) rotate(-90)" text-anchor="end" dy="0.35em">Pynehovu</text></g>
<g id="n100"><circle cx="738" cy="295.5" r="2.5" fill="#fabfd2"/><text class="lb" transform="translate(738,302) rotate(-90)" text-anchor="end" dy="0.35em">Zelutezo</text></g>
<g id="n101"><circle cx="745.3" cy="295.5" r="2.5" fill="#fabfd2"/><text class="lb" transform="translate(745.3,302) rotate(-90)" text-anchor="end" dy="0.35em">Fiqaki</text></g>
<g id="n102"><circle cx="752.5" cy="295.5" r="2.5" fill="#fabfd2"/><text class="lb" transform="translate(752.5,302) rotate(-90)" text-anchor="end" dy="0.35em">Kuhajohosoge</text></g>
<g id="n103"><circle cx="759.8" cy="295.5" r="4" fill="#fabfd2"/><text class="lb" transform="translate(759.8,302) rotate(-90)" text-anchor="end" dy="0.35em">Viwezalis</text></g>
<g id="n104"><circle cx="767.1" cy="295.5" r="2.5" fill="#fabfd2"/><text class="lb" transform="translate(767.1,302) rotate(-90)" text-anchor="end" dy="0.35em">Zaxewefuhob</text></g>
<g id="n105"><circle cx="774.3" cy="295.5" r="2.5" fill="#fabfd2"/><text class="lb" transform="translate(774.3,302) rotate(-90)" text-anchor="end" dy="0.35em">Lezakef</text></g>
</g>
<text class="t" x="393" y="406" text-anchor="middle">Nefodazed Piquy</text>
</svg>
